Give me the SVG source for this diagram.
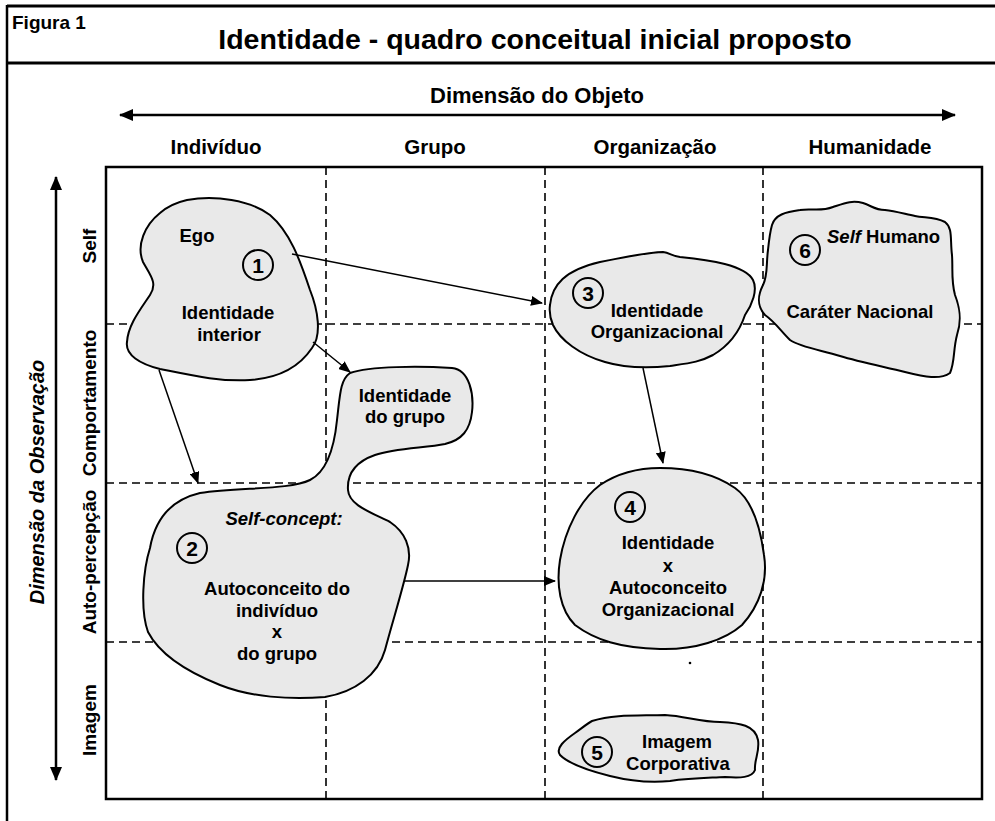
<svg xmlns="http://www.w3.org/2000/svg" width="995" height="821" viewBox="0 0 995 821">
<defs>
<marker id="ah" viewBox="0 0 12 10" refX="11" refY="5" markerWidth="12" markerHeight="10" markerUnits="userSpaceOnUse" orient="auto">
<path d="M0,0 L12,5 L0,10 Z" fill="#000"/>
</marker>
<marker id="ahb" viewBox="0 0 14 12" refX="13" refY="6" markerWidth="14" markerHeight="12" markerUnits="userSpaceOnUse" orient="auto-start-reverse">
<path d="M0,0 L14,6 L0,12 Z" fill="#000"/>
</marker>
<style>
.t{font-family:"Liberation Sans",Arial,sans-serif;font-weight:bold;fill:#000}
.blob{fill:#e9e9e9;stroke:#000;stroke-width:2}
.dash{stroke:#000;stroke-width:1.6;stroke-dasharray:8,5;fill:none}
.num{fill:none;stroke:#000;stroke-width:2}
.conn{stroke:#000;stroke-width:1.5;fill:none;marker-end:url(#ah)}
.bt{font-size:18.5px;text-anchor:middle}
.nt{font-size:21px;text-anchor:middle}
.hd{font-size:20.5px;text-anchor:middle}
.rl{font-size:19px;text-anchor:middle}
</style>
</defs>
<rect width="995" height="821" fill="#fff"/>

<!-- frame -->
<g id="frame">
<line x1="7" y1="6" x2="995" y2="6" stroke="#000" stroke-width="3"/>
<line x1="7" y1="63" x2="995" y2="63" stroke="#000" stroke-width="3"/>
<line x1="7" y1="5" x2="7" y2="821" stroke="#000" stroke-width="2.5"/>
<text class="t" x="12" y="29" font-size="19">Figura 1</text>
<text class="t" x="535" y="49" font-size="28.5" text-anchor="middle">Identidade - quadro conceitual inicial proposto</text>
</g>

<!-- axes -->
<g id="axes">
<text class="t" font-size="22" text-anchor="middle" x="537" y="103">Dimensão do Objeto</text>
<line x1="120" y1="115" x2="955" y2="115" stroke="#000" stroke-width="2.5" marker-start="url(#ahb)" marker-end="url(#ahb)"/>
<text class="t hd" x="216" y="154">Indivíduo</text>
<text class="t hd" x="435" y="154">Grupo</text>
<text class="t hd" x="655" y="154">Organização</text>
<text class="t hd" x="870" y="154">Humanidade</text>
<line x1="56" y1="177" x2="56" y2="780" stroke="#000" stroke-width="2.5" marker-start="url(#ahb)" marker-end="url(#ahb)"/>
<text class="t" font-style="italic" font-size="20" text-anchor="middle" transform="translate(44,482) rotate(-90)">Dimensão da Observação</text>
<text class="t rl" transform="translate(96,246) rotate(-90)">Self</text>
<text class="t rl" transform="translate(96,403) rotate(-90)">Comportamento</text>
<text class="t rl" transform="translate(96,562) rotate(-90)">Auto-percepção</text>
<text class="t rl" transform="translate(96,720) rotate(-90)">Imagem</text>
</g>

<!-- grid -->
<g id="grid">
<line class="dash" x1="106" y1="324" x2="982" y2="324"/>
<line class="dash" x1="106" y1="483" x2="982" y2="483"/>
<line class="dash" x1="106" y1="642" x2="982" y2="642"/>
<line class="dash" x1="326" y1="167" x2="326" y2="799"/>
<line class="dash" x1="545" y1="167" x2="545" y2="799"/>
<line class="dash" x1="763" y1="167" x2="763" y2="799"/>
</g>

<!-- blob 1 -->
<g id="node1">
<path class="blob" d="M187,200 C215,195 250,200 270,215 C290,232 300,260 310,290 C318,310 322,335 312,348 C300,366 280,378 250,380 C220,382 190,375 160,369 C140,364 125,355 127,342 C128,325 140,310 150,295 C158,283 150,275 143,262 C136,245 145,225 160,213 C168,206 178,202 187,200 Z"/>
<text class="t bt" x="197" y="242">Ego</text>
<circle class="num" cx="258" cy="265" r="15"/>
<text class="t nt" x="258" y="273">1</text>
<text class="t bt" x="228" y="319">Identidade</text>
<text class="t bt" x="229" y="341">interior</text>
</g>

<!-- blob 2 with group identity -->
<g id="node2">
<path class="blob" d="M350,373 C370,366 420,366 452,368 C470,370 474,395 472,412 C470,430 462,440 445,444 C425,448 395,448 375,455 C355,462 347,475 348,490 C349,505 370,512 390,522 C405,532 412,548 408,565 C404,585 393,620 385,650 C378,675 355,692 325,697 C290,700 250,697 220,685 C190,673 160,655 148,632 C140,610 143,570 150,548 C155,520 170,500 200,493 C240,487 290,490 310,480 C330,470 335,440 337,420 C340,395 340,380 350,373 Z"/>
<text class="t bt" x="405" y="402">Identidade</text>
<text class="t bt" x="405" y="423">do grupo</text>
<text class="t bt" x="284" y="525" font-style="italic">Self-concept:</text>
<circle class="num" cx="192" cy="548" r="15"/>
<text class="t nt" x="192" y="556">2</text>
<text class="t bt" x="277" y="595">Autoconceito do</text>
<text class="t bt" x="277" y="617">indivíduo</text>
<text class="t bt" x="277" y="638">x</text>
<text class="t bt" x="277" y="660">do grupo</text>
</g>

<!-- blob 3 -->
<g id="node3">
<path class="blob" d="M550,305 C552,285 565,270 600,262 C625,257 650,252 663,252 C670,253 672,256 680,257 C710,260 745,265 753,280 C758,290 752,305 745,315 C740,330 730,345 713,355 C700,362 690,363 670,366 C650,368 625,368 605,362 C580,355 560,340 553,325 C550,318 549,312 550,305 Z"/>
<circle class="num" cx="588" cy="293" r="15"/>
<text class="t nt" x="588" y="301">3</text>
<text class="t bt" x="657" y="317">Identidade</text>
<text class="t bt" x="657" y="338">Organizacional</text>
</g>

<!-- blob 4 -->
<g id="node4">
<path class="blob" d="M660,468 C635,468 615,475 600,485 C580,500 565,530 560,560 C556,585 560,610 575,625 C595,640 620,648 660,649 C695,650 725,640 742,625 C760,605 768,580 764,555 C760,525 752,500 735,488 C715,474 690,468 660,468 Z"/>
<circle class="num" cx="630" cy="507" r="15"/>
<text class="t nt" x="630" y="515">4</text>
<text class="t bt" x="668" y="549">Identidade</text>
<text class="t bt" x="668" y="572">x</text>
<text class="t bt" x="668" y="594">Autoconceito</text>
<text class="t bt" x="668" y="616">Organizacional</text>
<circle cx="690" cy="663" r="1.3" fill="#000"/>
</g>

<!-- blob 5 -->
<g id="node5">
<path class="blob" d="M592,721 C615,714 640,716 665,715 C685,716 700,722 720,722 C740,723 755,725 758,740 C760,752 754,760 755,770 C752,778 740,778 725,777 C705,778 690,778 670,781 C650,783 630,781 610,776 C590,771 570,765 560,755 C555,748 565,740 575,733 C582,728 588,723 592,721 Z"/>
<circle class="num" cx="597" cy="752" r="15"/>
<text class="t nt" x="597" y="760">5</text>
<text class="t bt" x="677" y="748">Imagem</text>
<text class="t bt" x="678" y="770">Corporativa</text>
</g>

<!-- blob 6 -->
<g id="node6">
<path class="blob" d="M772,225 C775,215 785,212 800,210 C812,208 820,212 833,207 C845,203 852,200 863,203 C872,206 875,210 885,210 C895,211 905,214 915,216 C925,218 935,217 945,222 C953,228 950,240 952,255 C953,270 951,280 955,295 C960,308 962,320 957,335 C953,350 955,362 950,373 C940,380 925,377 905,372 C885,367 860,362 840,356 C820,350 800,347 790,340 C780,330 775,322 765,315 C756,305 758,295 763,285 C768,275 766,265 768,250 C769,240 770,232 772,225 Z"/>
<circle class="num" cx="805" cy="250" r="15"/>
<text class="t nt" x="805" y="258">6</text>
<text class="t" font-size="18.5" x="827" y="243"><tspan font-style="italic">Self</tspan> Humano</text>
<text class="t bt" x="860" y="318">Caráter Nacional</text>
</g>

<!-- main box -->
<rect x="106" y="167" width="876" height="632" fill="none" stroke="#000" stroke-width="2.5"/>

<!-- connectors -->
<g id="connectors">
<line class="conn" x1="292" y1="254" x2="542" y2="303"/>
<line class="conn" x1="313" y1="342" x2="350" y2="372"/>
<line class="conn" x1="159" y1="370" x2="198" y2="483"/>
<line class="conn" x1="643" y1="368" x2="663" y2="463"/>
<line class="conn" x1="405" y1="581" x2="555" y2="581"/>
</g>
</svg>
